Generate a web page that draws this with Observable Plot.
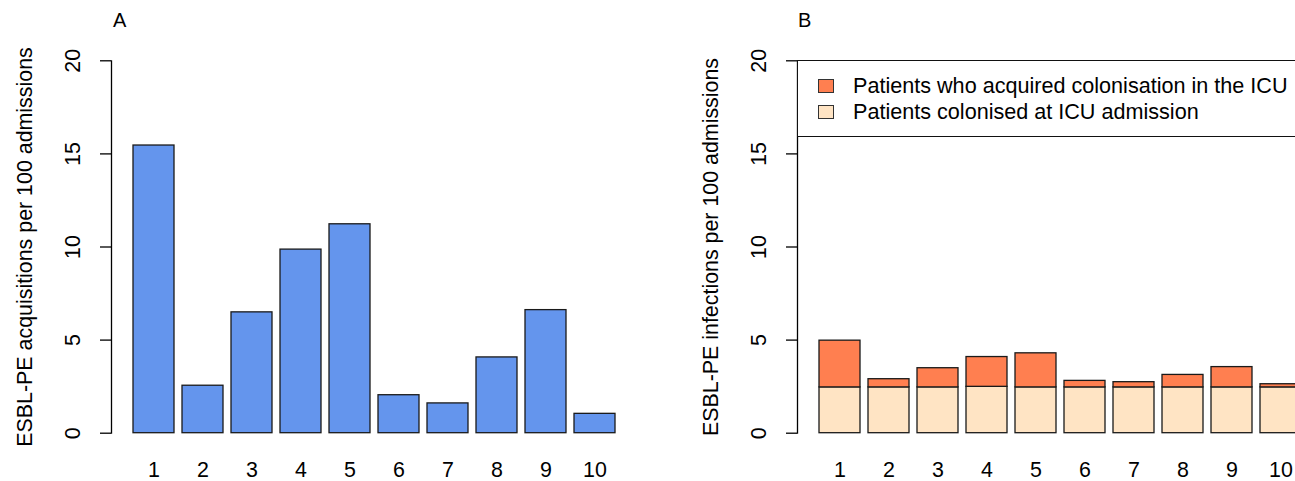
<!DOCTYPE html>
<html><head><meta charset="utf-8">
<script src="https://cdn.jsdelivr.net/npm/d3@7"></script>
<script src="https://cdn.jsdelivr.net/npm/@observablehq/plot@0.6"></script>
<style>
html,body{margin:0;padding:0;background:#fff;overflow:hidden}
#wrap{position:relative;width:1295px;height:481px;overflow:hidden;font-family:"Liberation Sans",Arial,sans-serif;color:#000;background:#fff}
.panel{position:absolute;top:0;width:660px;height:481px}
.panel svg{max-width:none !important;width:660px;height:481px}
.letter{position:absolute;font-size:20px;top:8px;line-height:24px}
#legend{position:absolute;left:797px;top:60px;width:600px;height:77px;border:1.3px solid #111;border-right:none;box-sizing:border-box;background:#fff}
.item{position:absolute;left:20px;height:26px;display:flex;align-items:center;font-size:21.6px;white-space:nowrap}
.sw{width:14px;height:12px;border:1.3px solid #333;margin-right:19px;flex:none}
</style></head>
<body><div id="wrap">
<div class="panel" id="pa" style="left:0"></div>
<div class="panel" id="pb" style="left:686px"></div>
<div class="letter" style="left:113px">A</div>
<div class="letter" style="left:798px">B</div>
<div id="legend"></div>
</div>
<script>
const units = ["1","2","3","4","5","6","7","8","9","10"];
const acquisitions = [15.45, 2.55, 6.49, 9.86, 11.22, 2.04, 1.60, 4.07, 6.61, 1.04];
const colonisedAtAdmission = [2.46, 2.46, 2.46, 2.49, 2.46, 2.46, 2.46, 2.46, 2.46, 2.46];
const acquiredInICU = [2.51, 0.44, 1.03, 1.60, 1.83, 0.35, 0.28, 0.67, 1.09, 0.17];
const yTicks = [0, 5, 10, 15, 20];
const yLabelA = "ESBL-PE acquisitions per 100 admissions";
const yLabelB = "ESBL-PE infections per 100 admissions";
const seriesNames = ["Patients who acquired colonisation in the ICU", "Patients colonised at ICU admission"];
const seriesColors = ["#FF7F50", "#FFE4C4"];
const barColor = "#6495ED";

function panel(barMarks, yLabel, extra = {}) {
  return Plot.plot({
    width: 660, height: 481,
    marginLeft: 111, marginRight: 22.5, marginTop: 60.3, marginBottom: 48.3,
    x: {type: "band", domain: units, paddingInner: 1/6, paddingOuter: 0.3933, axis: null},
    y: {domain: [0, 20]},
    style: {fontFamily: '"Liberation Sans", Arial, sans-serif', fontSize: "21.4px", color: "#000", background: "transparent", maxWidth: "none"},
    ...extra,
    marks: [
      ...barMarks,
      Plot.frame({anchor: "left", stroke: "#000", strokeWidth: 1.3}),
      Plot.axisY({ticks: yTicks, tickSize: 11, tickFormat: () => "", label: null, strokeWidth: 1.3}),
      Plot.text(yTicks, {y: d => d, text: d => String(d), frameAnchor: "left", dx: -38, rotate: -90, textAnchor: "middle", lineAnchor: "middle"}),
      Plot.text(units, {x: d => d, text: d => d, frameAnchor: "bottom", dy: 37, lineAnchor: "middle"}),
      Plot.text([yLabel], {text: d => d, frameAnchor: "left", dx: -86.5, rotate: -90, textAnchor: "middle", lineAnchor: "middle"})
    ]
  });
}

const dataA = units.map((u, i) => ({unit: u, value: acquisitions[i]}));
document.getElementById("pa").append(panel([
  Plot.barY(dataA, {x: "unit", y: "value", fill: barColor, stroke: "#1a1a1a", strokeWidth: 1.3})
], yLabelA));

const dataB = units.flatMap((u, i) => [
  {unit: u, series: seriesNames[1], value: colonisedAtAdmission[i]},
  {unit: u, series: seriesNames[0], value: acquiredInICU[i]}
]);
document.getElementById("pb").append(panel([
  Plot.barY(dataB, {x: "unit", y: "value", fill: "series", stroke: "#1a1a1a", strokeWidth: 1.3})
], yLabelB, {color: {domain: seriesNames, range: seriesColors}}));

const legend = document.getElementById("legend");
seriesNames.forEach((name, i) => {
  const it = document.createElement("div");
  it.className = "item";
  it.style.top = (12 + i * 26) + "px";
  const sw = document.createElement("div");
  sw.className = "sw";
  sw.style.background = seriesColors[i];
  const t = document.createElement("span");
  t.textContent = name;
  it.append(sw, t);
  legend.append(it);
});
</script>
</body></html>
